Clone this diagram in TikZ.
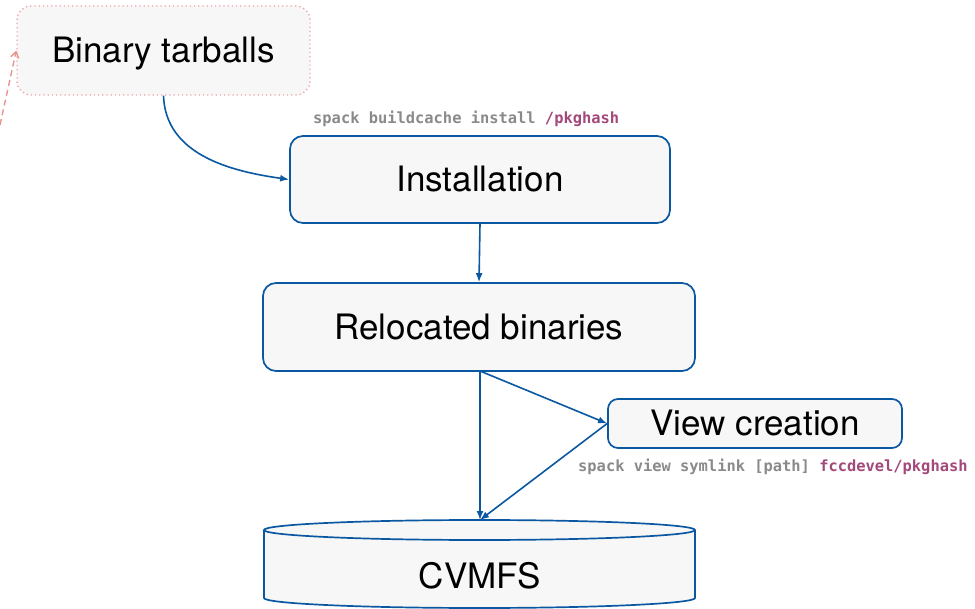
\documentclass[tikz,border=0pt]{standalone}
\usepackage{fontspec}
\setmainfont{TeX Gyre Heros}
\newfontfamily\cmdfont{DejaVu Sans Mono Bold}
\usetikzlibrary{arrows.meta}
\definecolor{boxblue}{HTML}{0B58A2}
\definecolor{boxfill}{HTML}{F7F7F7}
\definecolor{pinkdot}{HTML}{F0A2A8}
\definecolor{pinkarr}{HTML}{E8948F}
\definecolor{cmdgray}{HTML}{8A8A8A}
\definecolor{cmdmag}{HTML}{A3487A}
\newcommand\bigtxt{\fontsize{35}{40}\selectfont}
\newcommand\cmdtxt{\cmdfont\fontsize{15.4}{18}\selectfont}
\tikzset{
  capcenter/.style={text height=25pt, text depth=0pt},
  procbox/.style={draw=boxblue, fill=boxfill, line width=1.7pt, rounded corners=13pt,
    inner sep=0pt, font=\bigtxt, capcenter},
  srcbox/.style={draw=pinkdot, fill=boxfill, line width=1.4pt, rounded corners=14pt,
    dash pattern=on 1.2pt off 3pt, inner sep=0pt, font=\bigtxt, capcenter},
  flow/.style={draw=boxblue, line width=1.6pt, -{Latex[length=9pt,width=7pt]}},
  cmdlabel/.style={font=\cmdtxt, text=cmdgray, inner sep=0pt, anchor=west},
}
\begin{document}
\begin{tikzpicture}[x=1pt,y=-1pt]
\useasboundingbox (0,0) rectangle (975,609);
\fill[white] (0,0) rectangle (975,609);

% nodes
\node[srcbox, minimum width=293pt, minimum height=89pt] (tar) at (163.5,50.5) {Binary tarballs};
\node[procbox, minimum width=380pt, minimum height=87pt] (inst) at (480,179.5) {Installation};
\node[procbox, minimum width=432pt, minimum height=88pt] (rel) at (479,327) {Relocated binaries};
\node[procbox, rounded corners=10pt, minimum width=294pt, minimum height=49pt] (view) at (755,423.5) {View creation};

% cylinder CVMFS
\fill[boxfill] (264,530) -- (264,598) arc[start angle=180,end angle=360,x radius=215.5pt,y radius=10pt] -- (695,530) arc[start angle=0,end angle=180,x radius=215.5pt,y radius=10pt] -- cycle;
\draw[boxblue, line width=1.7pt] (264,530) -- (264,598) arc[start angle=180,end angle=360,x radius=215.5pt,y radius=10pt] -- (695,530);
\draw[boxblue, line width=1.7pt] (479.5,530) ellipse[x radius=215.5pt, y radius=10pt];
\coordinate (cvtop) at (480,520);
\node[font=\bigtxt, capcenter, inner sep=0pt] (cv) at (480,576) {CVMFS};

% labels
\node[cmdlabel] (cmd1) at (313,119) {spack buildcache install \textcolor{cmdmag}{/pkghash}};
\node[cmdlabel] (cmd2) at (578,467) {spack view symlink [path] \textcolor{cmdmag}{fccdevel/pkghash}};

% connectors
\coordinate (pk) at (0,125);
\draw[pinkarr, line width=1.4pt, dash pattern=on 6pt off 4pt, -{Straight Barb[length=6pt,width=8pt]}] (pk) -- (tar.west);
\draw[flow] (tar.south) to[out=-88, in=172] (inst.west);
\draw[flow] (inst.south) -- (rel.north);
\coordinate (relb) at (480,371);
\draw[flow] (relb) -- (cvtop);
\draw[flow] (relb) -- (view.west);
\draw[flow] (view.west) -- (cvtop);
\end{tikzpicture}
\end{document}
